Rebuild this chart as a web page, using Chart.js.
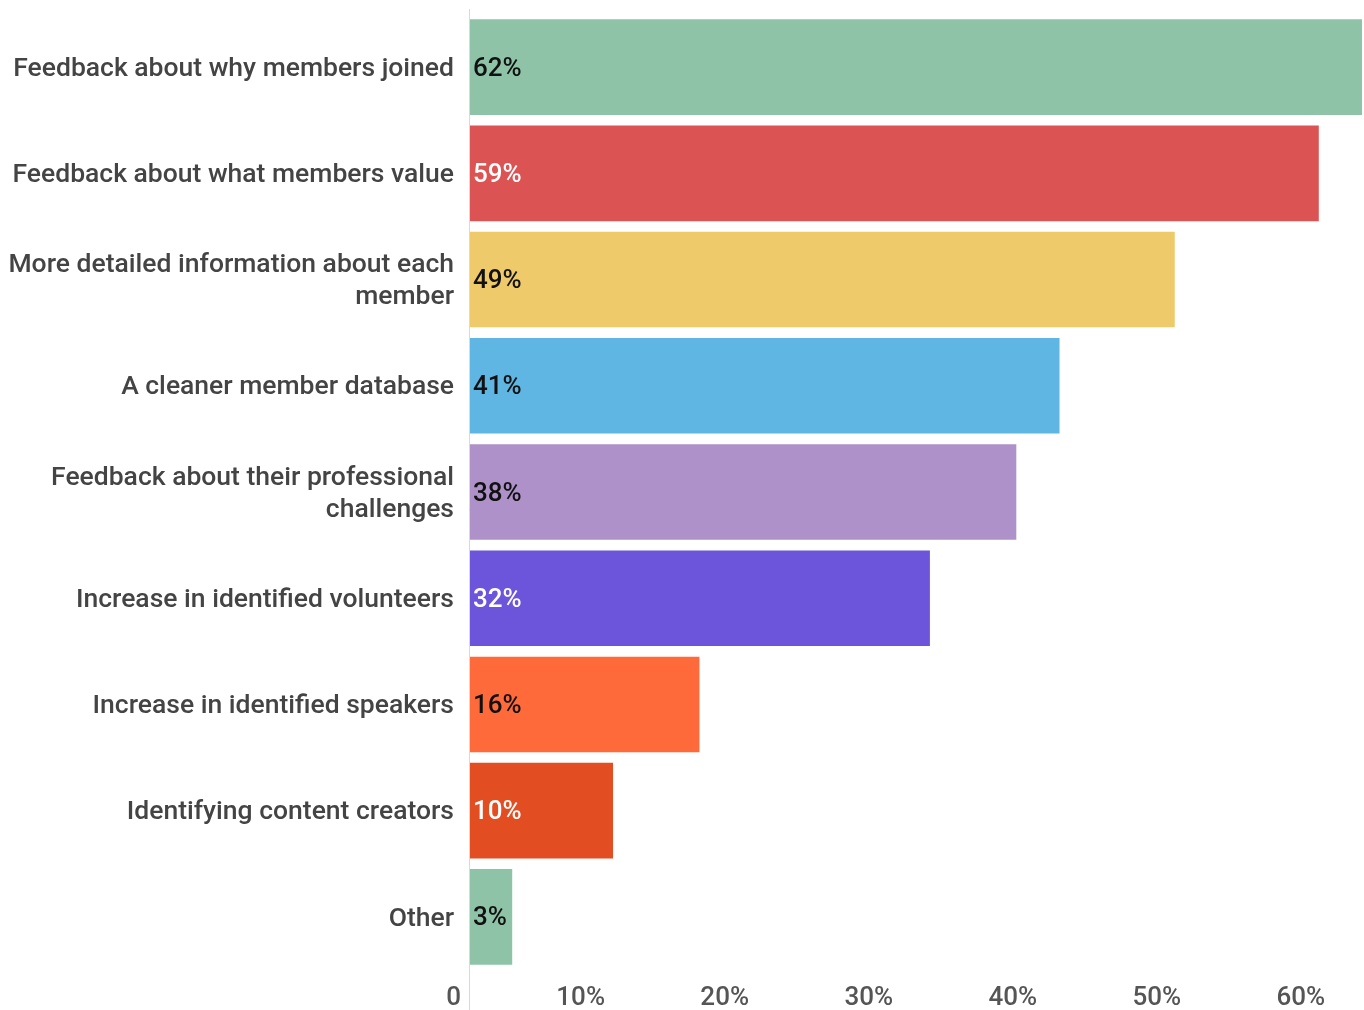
<!DOCTYPE html>
<html>
<head>
<meta charset="utf-8">
<script src="https://cdn.jsdelivr.net/npm/chart.js@4"></script>
<style>
  html, body { margin: 0; padding: 0; background: #fff; }
  #wrap { width: 1364px; height: 1010px; }
</style>
</head>
<body>
<div id="wrap"><canvas id="chart"></canvas></div>
<script>
const categories = [
  'Feedback about why members joined',
  'Feedback about what members value',
  ['More detailed information about each', 'member'],
  'A cleaner member database',
  ['Feedback about their professional', 'challenges'],
  'Increase in identified volunteers',
  'Increase in identified speakers',
  'Identifying content creators',
  'Other'
];
const values = [62, 59, 49, 41, 38, 32, 16, 10, 3];
const xTicks = [0, 10, 20, 30, 40, 50, 60];

const barColors = ['#8fc3a7', '#dc5354', '#eeca6a', '#5fb6e3', '#ad91c8', '#6c55db', '#fe6a39', '#e24d22', '#8fc3a7'];
const valueColors = ['#111', '#fff', '#111', '#111', '#111', '#fff', '#111', '#fff', '#111'];

// percentage text at the start of each bar
const valueLabels = {
  id: 'valueLabels',
  afterDatasetsDraw(chart) {
    const ctx = chart.ctx;
    const meta = chart.getDatasetMeta(0);
    ctx.save();
    ctx.font = '500 26px Roboto';
    ctx.textAlign = 'left';
    ctx.textBaseline = 'middle';
    meta.data.forEach((bar, i) => {
      ctx.fillStyle = valueColors[i];
      ctx.fillText(values[i] + '%', bar.base + 4, bar.y + 2);
    });
    ctx.restore();
  }
};

// vertical axis line running past the plot down to the tick labels
const axisLine = {
  id: 'axisLine',
  afterDraw(chart) {
    const ctx = chart.ctx;
    const x = chart.chartArea.left + 0.5;
    ctx.save();
    ctx.strokeStyle = '#d9d9d9';
    ctx.lineWidth = 1;
    ctx.beginPath();
    ctx.moveTo(x, chart.chartArea.top - 5);
    ctx.lineTo(x, chart.height);
    ctx.stroke();
    ctx.restore();
  }
};

new Chart(document.getElementById('chart'), {
  type: 'bar',
  data: {
    labels: categories,
    datasets: [{
      data: values,
      backgroundColor: barColors,
      barPercentage: 0.9,
      categoryPercentage: 1
    }]
  },
  options: {
    indexAxis: 'y',
    responsive: true,
    maintainAspectRatio: false,
    animation: false,
    layout: { padding: { top: 14, right: 2, bottom: 0, left: 0 } },
    plugins: {
      legend: { display: false },
      tooltip: { enabled: false }
    },
    scales: {
      x: {
        min: 0,
        max: 62,
        afterBuildTicks(scale) {
          scale.ticks = xTicks.map(v => ({ value: v }));
        },
        afterFit(scale) {
          scale.height = 40;
          scale.paddingLeft = 0;
          scale.paddingRight = 0;
        },
        grid: { display: false, drawTicks: false },
        border: { display: false },
        ticks: {
          align: 'end',
          labelOffset: -8,
          padding: 13,
          color: '#555',
          font: { family: 'Roboto', size: 26, weight: '500' },
          callback: v => v === 0 ? '0' : v + '%'
        }
      },
      y: {
        afterFit(scale) {
          scale.width = 469;
          scale.paddingTop = 0;
          scale.paddingBottom = 0;
        },
        grid: { display: false, drawTicks: false },
        border: { display: false },
        ticks: {
          padding: 15,
          labelOffset: 2,
          color: '#444',
          font: { family: 'Roboto', size: 26.5, weight: '500', lineHeight: 1.21 }
        }
      }
    }
  },
  plugins: [valueLabels, axisLine]
});
</script>
</body>
</html>
